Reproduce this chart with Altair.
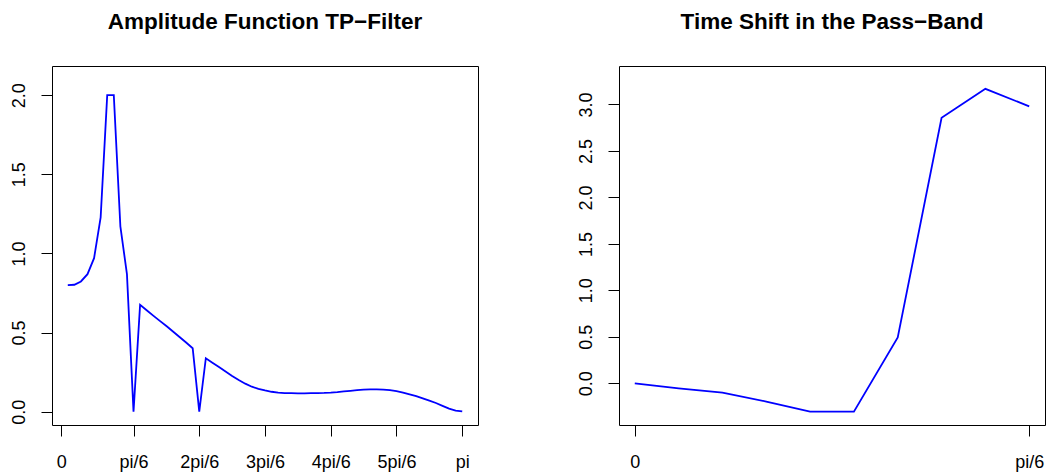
import altair as alt
import pandas as pd

# ---- data ----
amp_index = list(range(1, 62))
amp_values = [
    0.800, 0.802, 0.823, 0.869, 0.970, 1.228, 2.000, 2.000, 1.171, 0.869,
    0.000, 0.675, 0.641, 0.607, 0.574, 0.541, 0.507, 0.472, 0.437, 0.401,
    0.000, 0.338, 0.310, 0.282, 0.254, 0.226, 0.200, 0.177, 0.158, 0.144,
    0.134, 0.126, 0.121, 0.118, 0.117, 0.116, 0.116, 0.117, 0.118, 0.119,
    0.121, 0.124, 0.128, 0.132, 0.136, 0.139, 0.141, 0.141, 0.140, 0.136,
    0.130, 0.121, 0.110, 0.098, 0.084, 0.070, 0.055, 0.037, 0.019, 0.007,
    0.002,
]
amp_tick_pos = [0, 11, 21, 31, 41, 51, 61]
amp_tick_labels = ["0", "pi/6", "2pi/6", "3pi/6", "4pi/6", "5pi/6", "pi"]
amp_y_ticks = [0.0, 0.5, 1.0, 1.5, 2.0]

shift_index = list(range(0, 10))
shift_values = [0.000, -0.054, -0.100, -0.197, -0.305, -0.305, 0.493, 2.856, 3.168, 2.980]
shift_tick_pos = [0, 9]
shift_tick_labels = ["0", "pi/6"]
shift_y_ticks = [0.0, 0.5, 1.0, 1.5, 2.0, 2.5, 3.0]

FONT = "Liberation Sans"


def label_expr(pos, labels):
    pairs = ",".join(f"'{p}':'{l}'" for p, l in zip(pos, labels))
    return "{" + pairs + "}[datum.value]"


def x_axis(pos, labels):
    return alt.Axis(
        values=pos, labelExpr=label_expr(pos, labels), title=None, grid=False,
        domain=False, ticks=True, tickSize=11, tickColor="#000000", tickWidth=1,
        labelFont=FONT, labelFontSize=18, labelColor="#000000",
        labelBaseline="alphabetic", labelPadding=31, labelFlush=False,
        labelOverlap=False, labelBound=False,
    )


def y_axis(vals):
    return alt.Axis(
        values=vals, format=".1f", title=None, grid=False, domain=False,
        ticks=True, tickSize=11, tickColor="#000000", tickWidth=1,
        labelFont=FONT, labelFontSize=18, labelColor="#000000",
        labelAngle=270, labelAlign="center", labelBaseline="alphabetic",
        labelPadding=17, labelFlush=False, labelOverlap=False, labelBound=False,
    )


def title(text):
    return alt.TitleParams(
        text=text, font=FONT, fontSize=22.5, fontWeight="bold", color="#000000",
        anchor="middle", baseline="alphabetic", offset=15,
    )


amp_df = pd.DataFrame({"k": amp_index, "v": amp_values})
shift_df = pd.DataFrame({"k": shift_index, "v": shift_values})

left = alt.Chart(amp_df).mark_line(color="#0000FF", strokeWidth=1.8).encode(
    x=alt.X("k:Q", scale=alt.Scale(domain=[-1.4, 63.4], nice=False, zero=False),
            axis=x_axis(amp_tick_pos, amp_tick_labels)),
    y=alt.Y("v:Q", scale=alt.Scale(domain=[-0.084, 2.184], nice=False, zero=False),
            axis=y_axis(amp_y_ticks)),
).properties(width=426, height=359, title=title("Amplitude Function TP\u2212Filter"))

right = alt.Chart(shift_df).mark_line(color="#0000FF", strokeWidth=1.8).encode(
    x=alt.X("k:Q", scale=alt.Scale(domain=[-0.36, 9.36], nice=False, zero=False),
            axis=x_axis(shift_tick_pos, shift_tick_labels)),
    y=alt.Y("v:Q", scale=alt.Scale(domain=[-0.449, 3.414], nice=False, zero=False),
            axis=y_axis(shift_y_ticks)),
).properties(width=426, height=359, title=title("Time Shift in the Pass\u2212Band"))

chart = alt.hconcat(left, right, spacing=141, bounds="flush").properties(
    autosize=alt.AutoSizeParams(type="pad"),
    padding={"left": 9, "top": 10, "right": 0, "bottom": 0},
    background="white",
).configure_view(stroke="#000000", strokeWidth=1, fill="white")

chart.save("out.html", embed_options={"renderer": "svg", "actions": False})
